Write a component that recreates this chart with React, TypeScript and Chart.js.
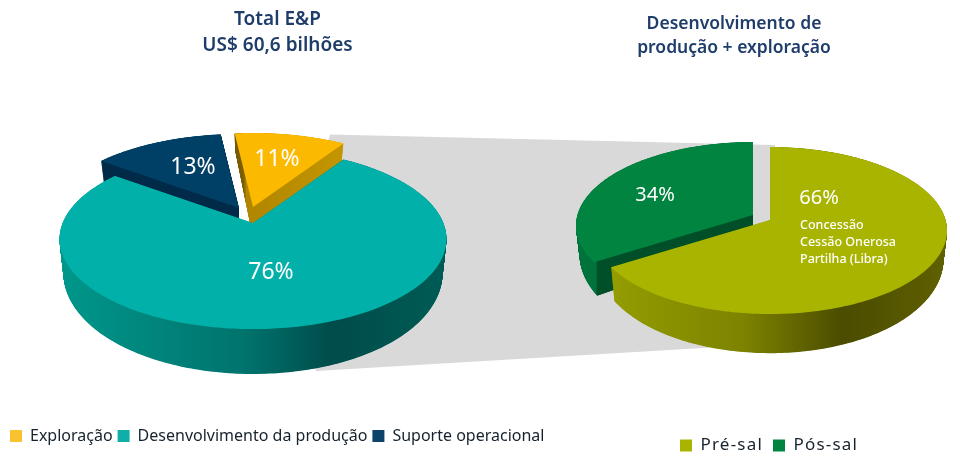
import React, { useEffect, useRef } from "react";
import { Chart, registerables } from "chart.js";

Chart.register(...registerables);

const FONT = "'Noto Sans', sans-serif";
const leftCategories = ["Exploração", "Desenvolvimento da produção", "Suporte operacional"];
const leftValues = [11, 76, 13];
const leftColors = ["#fbb900", "#00b0a9", "#003f66"];
const leftLegendColors = ["#f8c230", "#10aea8", "#0b4468"];
const leftTitle = ["Total E&P", "US$ 60,6 bilhões"];

const rightCategories = ["Pré-sal", "Pós-sal"];
const rightValues = [66, 34];
const rightColors = ["#a9b400", "#00843f"];
const rightTitle = ["Desenvolvimento de", "produção + exploração"];
const rightNotes = ["Concessão", "Cessão Onerosa", "Partilha (Libra)"];

type Stop = [number, string];
interface Geo {
  cx: number; cy: number; ry: number; tilt: number; depth: number; rotation: number; radius: number;
  shifts: number[][]; walls: Stop[][]; labelAt: number[][];
}

const leftGeo: Geo = {
  cx: 253, cy: 223, ry: 87.2, tilt: 0.178, depth: 47, rotation: -6.5, radius: 190.4,
  shifts: [[0, -16], [0, 0], [-14, -15]],
  walls: [
    [[0.45, "#6e5200"], [0.498, "#7d5e00"], [0.505, "#b08600"], [0.73, "#c39400"]],
    [[0, "#009a8e"], [0.5, "#00736d"], [0.72, "#004c4a"], [1, "#005b55"]],
    [[0, "#002a47"], [1, "#002a47"]],
  ],
  labelAt: [[24, -48], [18, 49], [-46, -41]],
};
const rightGeo: Geo = {
  cx: 770, cy: 218, ry: 82.2, tilt: 0.126, depth: 41, rotation: 0, radius: 175.6,
  shifts: [[0, 2], [-17, -3]],
  walls: [
    [[0, "#99a300"], [0.45, "#7d8300"], [0.72, "#4b4c00"], [1, "#5f6000"]],
    [[0, "#00733c"], [0.05, "#00733c"], [0.055, "#004f28"], [1, "#004f28"]],
  ],
  labelAt: [[49, -22], [-98, -20]],
};

const project = (g: Geo, r: number, u: number, v: number, s: number, sx: number, sy: number) => {
  const w = 1 + g.tilt * v;
  const shrink = 1 - 0.02 * s;
  const d = g.depth * (1 - 0.34 * (1 + v)) * s;
  return [g.cx + sx + ((r * u) / w) * shrink, g.cy + sy - (g.ry * v * shrink) / w + d];
};

const fillSlice = (ctx: CanvasRenderingContext2D, g: Geo, arc: any, s: number, sx: number, sy: number) => {
  const a0 = arc.startAngle + Math.PI / 2;
  const a1 = arc.endAngle + Math.PI / 2;
  const steps = Math.max(8, Math.ceil(((a1 - a0) * 180) / Math.PI));
  ctx.beginPath();
  const c = project(g, arc.outerRadius, 0, 0, s, sx, sy);
  ctx.moveTo(c[0], c[1]);
  for (let i = 0; i <= steps; i++) {
    const t = a0 + ((a1 - a0) * i) / steps;
    const p = project(g, arc.outerRadius, Math.sin(t), Math.cos(t), s, sx, sy);
    ctx.lineTo(p[0], p[1]);
  }
  ctx.closePath();
  ctx.fill();
};

const piePlugin = (g: Geo, titleCx: number, titleTop: number, legendX: number, legendY: number, withBand: boolean, notes: string[], tracking: string) => ({
  id: "perspectivePie",
  afterLayout(chart: any) {
    const t = chart.titleBlock;
    t.left = titleCx - 300; t.right = titleCx + 300; t.top = titleTop; t.bottom = titleTop + t.height;
    const l = chart.legend;
    const w = l.width;
    l.left = legendX; l.right = legendX + w + 40; l.top = legendY; l.bottom = legendY + l.height;
    if (!l.__tracked) {
      const draw = l.draw.bind(l);
      l.draw = (...rest: any[]) => {
        (chart.ctx as any).letterSpacing = tracking;
        draw(...rest);
        (chart.ctx as any).letterSpacing = "0px";
      };
      l.__tracked = true;
    }
  },
  beforeDatasetsDraw(chart: any) {
    if (!withBand) return;
    const ctx = chart.ctx;
    ctx.save();
    ctx.fillStyle = "#d9d9d9";
    ctx.beginPath();
    ctx.moveTo(330, 134.5);
    ctx.lineTo(775, 145);
    ctx.lineTo(775, 340);
    ctx.lineTo(720, 347);
    ctx.lineTo(316, 371);
    ctx.lineTo(300, 250);
    ctx.closePath();
    ctx.fill();
    ctx.restore();
  },
  beforeDatasetDraw(chart: any, args: any) {
    const ctx: CanvasRenderingContext2D = chart.ctx;
    const arcs: any[] = args.meta.data;
    const mag = (i: number) => Math.abs(g.shifts[i][0]) + Math.abs(g.shifts[i][1]);
    const order = arcs.map((_, i) => i).sort((a, b) => mag(b) - mag(a));
    ctx.save();
    const grads = g.walls.map((stops) => {
      const grad = ctx.createLinearGradient(g.cx - g.radius - 17, 0, g.cx + g.radius, 0);
      stops.forEach(([o, c]) => grad.addColorStop(o, c));
      return grad;
    });
    for (let d = g.depth * 2; d >= 1; d--) {
      const s = d / (g.depth * 2);
      order.forEach((i) => {
        ctx.fillStyle = grads[i];
        fillSlice(ctx, g, arcs[i], s, g.shifts[i][0], g.shifts[i][1]);
      });
    }
    order.forEach((i) => {
      ctx.fillStyle = arcs[i].options.backgroundColor;
      fillSlice(ctx, g, arcs[i], 0, g.shifts[i][0], g.shifts[i][1]);
    });
    const values: number[] = chart.data.datasets[0].data;
    ctx.fillStyle = "#ffffff";
    ctx.textAlign = "center";
    ctx.textBaseline = "middle";
    ctx.font = `400 ${notes.length ? 20 : 23}px ${FONT}`;
    values.forEach((v, i) => {
      const x = g.cx + g.shifts[i][0] + g.labelAt[i][0];
      const y = g.cy + g.shifts[i][1] + g.labelAt[i][1];
      ctx.fillText(`${v}%`, x, y);
    });
    if (notes.length) {
      ctx.textAlign = "left";
      ctx.font = `500 12.5px ${FONT}`;
      notes.forEach((n, i) => ctx.fillText(n, g.cx + 30, g.cy + 7 + i * 17));
    }
    ctx.restore();
    return false;
  },
});

const makeChart = (
  canvas: HTMLCanvasElement, labels: string[], values: number[], colors: string[], legendColors: string[],
  title: string[], titleSize: number, g: Geo, plugin: any, gap: number, legendSize: number,
) =>
  new Chart(canvas, {
    type: "pie",
    data: { labels, datasets: [{ data: values, backgroundColor: colors, borderWidth: 0, clip: false } as any] },
    plugins: [plugin],
    options: {
      animation: false,
      responsive: false,
      devicePixelRatio: 1,
      events: [],
      radius: g.radius,
      rotation: g.rotation,
      plugins: {
        tooltip: { enabled: false },
        title: {
          display: true, text: title, color: "#1f3d6b", padding: 0,
          font: { family: FONT, size: titleSize, weight: 600 as any, lineHeight: 1.37 },
        },
        legend: {
          display: true, position: "bottom", align: "start",
          labels: {
            boxWidth: 12, boxHeight: 12, padding: gap, color: "#16222e",
            font: { family: FONT, size: legendSize },
            generateLabels: (c: any) =>
              c.data.labels.map((text: string, i: number) => ({
                text, fillStyle: legendColors[i], strokeStyle: legendColors[i], lineWidth: 0, index: i, fontColor: "#16222e",
              })),
          },
        },
      },
    } as any,
  } as any);

export default function App() {
  const leftRef = useRef<HTMLCanvasElement>(null);
  const rightRef = useRef<HTMLCanvasElement>(null);
  useEffect(() => {
    const a = makeChart(leftRef.current!, leftCategories, leftValues, leftColors, leftLegendColors, leftTitle, 19, leftGeo,
      piePlugin(leftGeo, 277.5, 7, 5, 423, true, [], "0px"), 5, 16);
    const b = makeChart(rightRef.current!, rightCategories, rightValues, rightColors, rightColors, rightTitle, 17.5, rightGeo,
      piePlugin(rightGeo, 734, 12, 670, 427, false, rightNotes, "1.2px"), 10, 17);
    return () => { a.destroy(); b.destroy(); };
  }, []);
  const style: React.CSSProperties = { position: "absolute", left: 0, top: 0, display: "block" };
  return (
    <div style={{ position: "absolute", left: 0, top: 0, width: 960, height: 462, background: "#fff", overflow: "hidden" }}>
      <canvas ref={leftRef} width={960} height={462} style={style} />
      <canvas ref={rightRef} width={960} height={462} style={style} />
    </div>
  );
}
